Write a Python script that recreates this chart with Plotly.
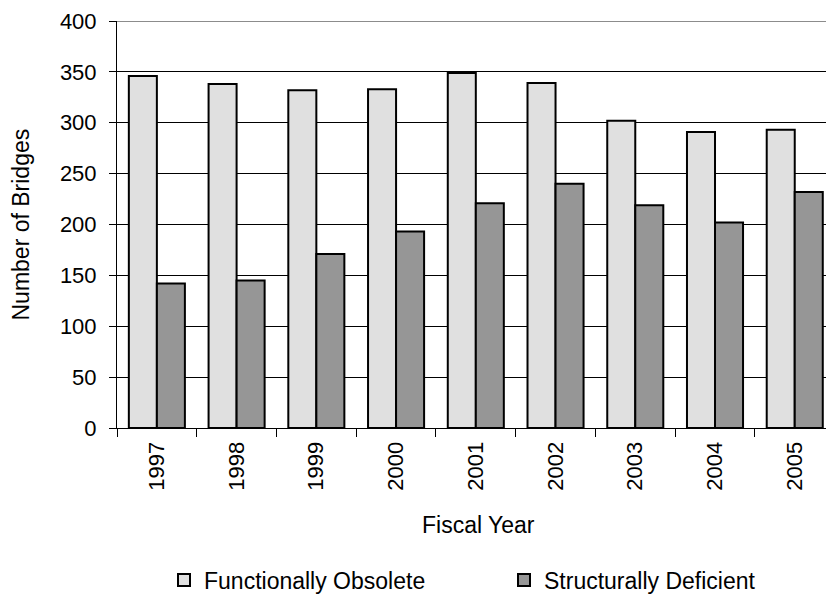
import plotly.graph_objects as go

years = ["1997", "1998", "1999", "2000", "2001", "2002", "2003", "2004", "2005"]
functionally_obsolete = [346, 338, 332, 333, 349, 339, 302, 291, 293]
structurally_deficient = [142, 145, 171, 193, 221, 240, 219, 202, 232]
y_ticks = [0, 50, 100, 150, 200, 250, 300, 350, 400]

FONT = "Liberation Sans, Arial, sans-serif"

fig = go.Figure()
fig.add_trace(go.Bar(
    x=years, y=functionally_obsolete, name="Functionally Obsolete",
    marker=dict(color="#e0e0e0", line=dict(color="black", width=2)),
))
fig.add_trace(go.Bar(
    x=years, y=structurally_deficient, name="Structurally Deficient",
    marker=dict(color="#969696", line=dict(color="black", width=2)),
))

fig.update_layout(
    template="none",
    width=826, height=595,
    margin=dict(l=117, r=0, t=21, b=167, autoexpand=False),
    paper_bgcolor="white", plot_bgcolor="white",
    barmode="group", bargap=0.297, bargroupgap=0,
    font=dict(family=FONT, size=22, color="black"),
    showlegend=True,
    legend=dict(
        orientation="h", xref="container", yref="container",
        x=164 / 826, y=1 - 580 / 595, xanchor="left", yanchor="middle",
        font=dict(size=23), entrywidth=295, entrywidthmode="pixels",
        bgcolor="rgba(0,0,0,0)", borderwidth=0,
    ),
    xaxis=dict(
        type="category", range=[-0.5, 8.392], automargin=False,
        showline=True, linecolor="black", linewidth=1,
        ticks="outside", tickson="boundaries", ticklen=8, tickcolor="black",
        tickangle=-90, ticklabelstandoff=4,
        showgrid=False, zeroline=False,
        tickfont=dict(size=22),
    ),
    yaxis=dict(
        range=[0, 400], tickvals=y_ticks, ticktext=[str(v) for v in y_ticks],
        automargin=False,
        showline=True, linecolor="black", linewidth=1,
        ticks="outside", ticklen=7, tickcolor="black",
        showgrid=True, gridcolor="black", gridwidth=1,
        zeroline=False, ticklabelstandoff=8,
        tickfont=dict(size=22),
    ),
    annotations=[
        dict(text="Fiscal Year", xref="paper", yref="paper",
             x=(478 - 117) / 709, y=-(525 - 428) / 407,
             xanchor="center", yanchor="middle", showarrow=False,
             font=dict(size=23)),
        dict(text="Number of Bridges", xref="paper", yref="paper",
             x=(20 - 117) / 709, y=0.5, textangle=-90,
             xanchor="center", yanchor="middle", showarrow=False,
             font=dict(size=23)),
    ],
    shapes=[
        dict(type="line", xref="paper", yref="y", x0=0, x1=1, y0=400, y1=400,
             line=dict(color="#8c8c8c", width=2)),
    ],
)

fig.write_html(
    "out.html",
    config={"displayModeBar": False},
    post_script="document.body.style.margin='0';document.body.style.overflow='hidden';",
)
